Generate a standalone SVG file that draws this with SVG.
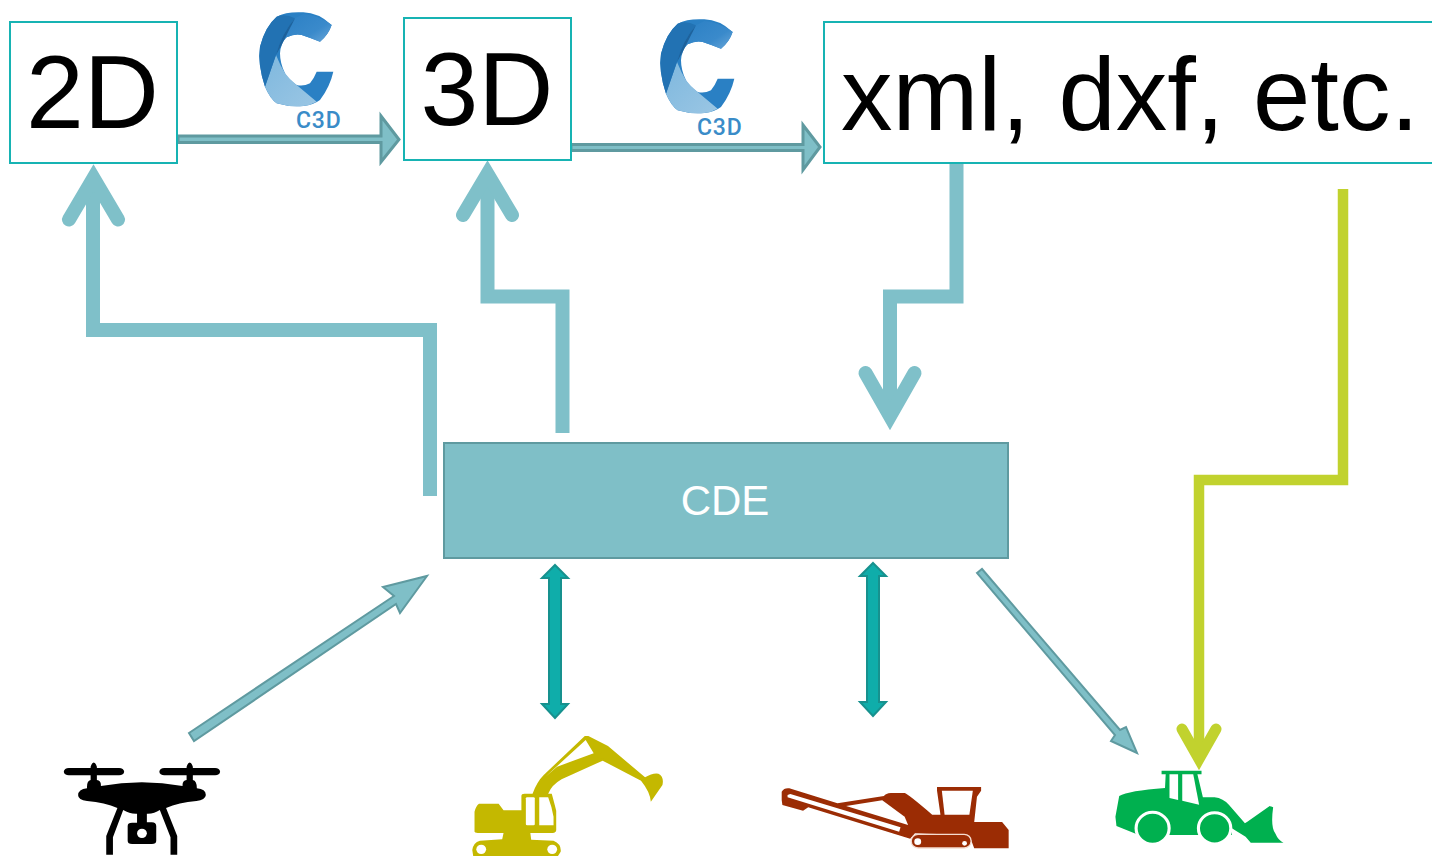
<svg xmlns="http://www.w3.org/2000/svg" width="1432" height="856" viewBox="0 0 1432 856">
<style>
.box{fill:#fff;stroke:#17b3b3;stroke-width:2}
.big{font-family:"Liberation Sans",Arial,sans-serif;font-size:104px;fill:#000}
.thin{fill:#7fbfc7;stroke:#5f9aa0;stroke-width:3;stroke-linejoin:miter}
.thick{fill:none;stroke:#7fc0c9;stroke-width:14;stroke-linejoin:miter}
.head{fill:none;stroke:#7fc0c9;stroke-width:14;stroke-linecap:round;stroke-linejoin:miter}
.lime{stroke:#c1d22e;stroke-width:10.500}
.dbl{fill:#0fadaa;stroke:#17918e;stroke-width:2}
</style>
<defs>
<linearGradient id="lg" x1="0" y1="0" x2="1" y2="1"><stop offset="0" stop-color="#2a7fc4"/><stop offset=".6" stop-color="#3a8acb"/><stop offset="1" stop-color="#74addb"/></linearGradient>
<linearGradient id="lo" x1="0" y1="0" x2="1" y2="1"><stop offset="0" stop-color="#7fb8de"/><stop offset="1" stop-color="#9ac6e4"/></linearGradient>
<g id="c3d">
<g transform="translate(170,0) scale(.33333)">
<path d="M485 75Q445 38 400 37Q350 34 320 50Q285 80 270 140Q262 190 285 260Q300 295 320 310Q360 322 400 318Q430 315 450 300Q480 260 490 215H440Q432 235 420 250Q400 260 380 255Q355 240 345 220Q330 190 330 160Q332 130 350 112Q375 100 395 105Q425 115 450 125Q475 105 485 75Z" fill="#2a80c4"/>
<path d="M285 260L318 165Q330 195 345 220Q360 240 380 255L440 305Q420 316 400 318Q360 322 320 310Q300 295 285 260Z" fill="url(#lo)"/>
<path d="M375 55Q335 100 318 165L285 260Q262 190 270 140Q285 80 320 50Q345 40 375 55Z" fill="#2272b3"/>
<path d="M375 55Q345 100 332 140Q338 115 350 112Q375 100 395 105Q425 115 450 125Q475 105 485 75Q445 45 400 42Z" fill="url(#lg)"/>
<path d="M375 55L332 140L318 165Q335 100 375 55Z" fill="#1e629c"/>
</g>
<text x="296" y="127.500" font-family="Roboto,'Liberation Sans',sans-serif" font-size="23" font-weight="500" letter-spacing=".8" fill="#3a8cc8">C3D</text>
</g>
</defs>
<rect width="1432" height="856" fill="#fff"/>

<g id="connectors">
<path class="thin" d="M178 136H381V116L399 139.500L381 162V142.500H178Z"/>
<path class="thin" d="M571 144.500H803V125L820 147L803 170V150.500H571Z"/>
<path class="thick" d="M430 496V330H93V180"/>
<path class="head" d="M69 219.500L93.500 178L118 219.500"/>
<path class="thick" d="M562.500 433V296.500H487.500V176"/>
<path class="head" d="M463 215L487.500 174L512 215"/>
<path class="thick" d="M956.500 163V296.500H890V414"/>
<path class="head" d="M865.500 373L890 416L914.500 373"/>
<path class="thick lime" d="M1343 189V480H1199V757"/>
<path class="head lime" style="stroke-width:11" d="M1182 729L1199 759L1216 729"/>
<path class="thin" style="stroke-width:2" d="M189 733L394 596L383 587L427 576L400 613L396 604L194 741Z"/>
<path class="thin" style="stroke-width:2" d="M977 573L982 569L1120 730L1126 727L1137 753L1111 741L1115 735Z"/>
<path class="dbl" d="M555 565L568 578H561V704H568L555 718L542 704H549V578H542Z"/>
<path class="dbl" d="M873 563L886 576H879V702H886L873 716L860 702H867V576H860Z"/>
</g>

<g id="node-2d"><rect class="box" x="10" y="22" width="167" height="141"/><text class="big" x="26" y="128">2D</text></g>
<g id="node-3d"><rect class="box" x="404" y="18" width="167" height="142"/><text class="big" x="420.500" y="125">3D</text></g>
<g id="node-xml"><rect class="box" x="824" y="22" width="620" height="141"/><text class="big" x="841" y="130" style="font-size:103px">xml, dxf, etc.</text></g>
<g id="node-cde"><rect x="444" y="443" width="564" height="115" fill="#7fbfc7" stroke="#5f9aa0" stroke-width="2"/><text x="725" y="515" text-anchor="middle" font-family="'Liberation Sans',Arial,sans-serif" font-size="42" fill="#fff">CDE</text></g>

<g id="logo-c3d-1"><use href="#c3d"/></g>
<g id="logo-c3d-2"><use href="#c3d" transform="translate(401,7)"/></g>

<g id="drone" transform="translate(0,720) scale(.4464,.33333)" fill="#000">
<rect x="143" y="144" width="135" height="22" rx="11"/><rect x="357" y="144" width="136" height="22" rx="11"/>
<path d="M203 180V140Q210 115 217 140V180Q227 182 226 198Q318 176 409 198Q408 182 418 180V140Q425 115 432 140V180Q441 182 441 205Q462 208 461 226Q460 240 440 243Q400 248 372 264L397 348V404H382V352L358 270Q345 282 329 281V307H340Q350 308 350 318V362Q350 372 340 372H296Q286 372 286 362V318Q286 308 296 308H307V281Q290 282 276 270L253 352V404H238V348L263 264Q235 248 195 243Q175 240 175 226Q175 208 195 205Q194 182 203 180Z"/>
<ellipse cx="318" cy="340" rx="11" ry="14" fill="#fff"/>
</g>

<g id="excavator" transform="translate(0,720) scale(.4464,.33333)" fill="#c4b800">
<path d="M1063 335V275Q1066 258 1073 251H1117L1128 271H1168V228Q1168 221 1175 221H1193Q1203 185 1218 165L1310 48H1318L1362 78L1445 172Q1462 158 1475 161Q1488 170 1484 195L1458 245Q1456 215 1436 182L1350 122L1258 178Q1236 195 1228 221H1236Q1240 240 1246 272V330Q1246 338 1238 339H1188L1190 359L1240 362Q1258 372 1256 395L1250 408H1060L1058 390Q1060 368 1075 362L1125 358L1128 339H1070Q1063 338 1063 335Z"/>
<path d="M1222 170L1312 60L1330 100L1248 140Z" fill="#fff"/>
<path d="M1246 145L1350 97L1352 118L1336 112L1240 155Z"/>
<rect x="1178" y="232" width="20" height="84" rx="3" fill="#fff"/>
<path d="M1208 232H1228Q1236 260 1240 290V316H1208Z" fill="#fff"/>
<ellipse cx="1078" cy="388" rx="11" ry="14" fill="#fff"/><ellipse cx="1237" cy="388" rx="11" ry="14" fill="#fff"/>
</g>

<g id="crusher" transform="translate(760,720) scale(.3444,.33333)" fill="#9b2c04">
<path d="M63 240V215Q70 203 85 205L225 250L360 228Q365 220 380 219H420Q430 222 500 284H524L514 212V201H642V212L630 230L622 306H703L722 330V385H622L610 352Q600 345 450 340L436 356L140 262L125 272L65 255Z"/>
<path d="M80 225L88 222L408 322L404 335L80 232Z" fill="#fff"/>
<path d="M250 258L355 241L420 290L430 315Z" fill="#fff"/>
<path d="M528 212H618L608 284H536Z" fill="#fff"/>
<rect x="439" y="343" width="174" height="41" rx="20" fill="#9b2c04" stroke="#f5dcd0" stroke-width="4"/>
<circle cx="458" cy="365" r="10" fill="#fff"/><circle cx="594" cy="370" r="7" fill="#fff"/>
</g>

<g id="loader" transform="translate(760,720) scale(.3444,.33333)" fill="#00b04f">
<path d="M1166 152H1282V163H1270L1286 232H1320Q1345 235 1362 255L1408 310L1415 305L1480 258L1490 262Q1482 320 1496 340Q1505 362 1520 368H1425L1410 350L1370 325V345H1100L1035 318L1032 290L1043 228Q1070 212 1176 204L1178 163H1166Z"/>
<circle cx="1140" cy="325" r="48" stroke="#fff" stroke-width="9"/><circle cx="1320" cy="325" r="47" stroke="#fff" stroke-width="9"/>
<path d="M1189 163H1214V240L1189 234Z" fill="#fff"/><path d="M1226 163H1258L1275 254L1226 242Z" fill="#fff"/>
</g>
</svg>
